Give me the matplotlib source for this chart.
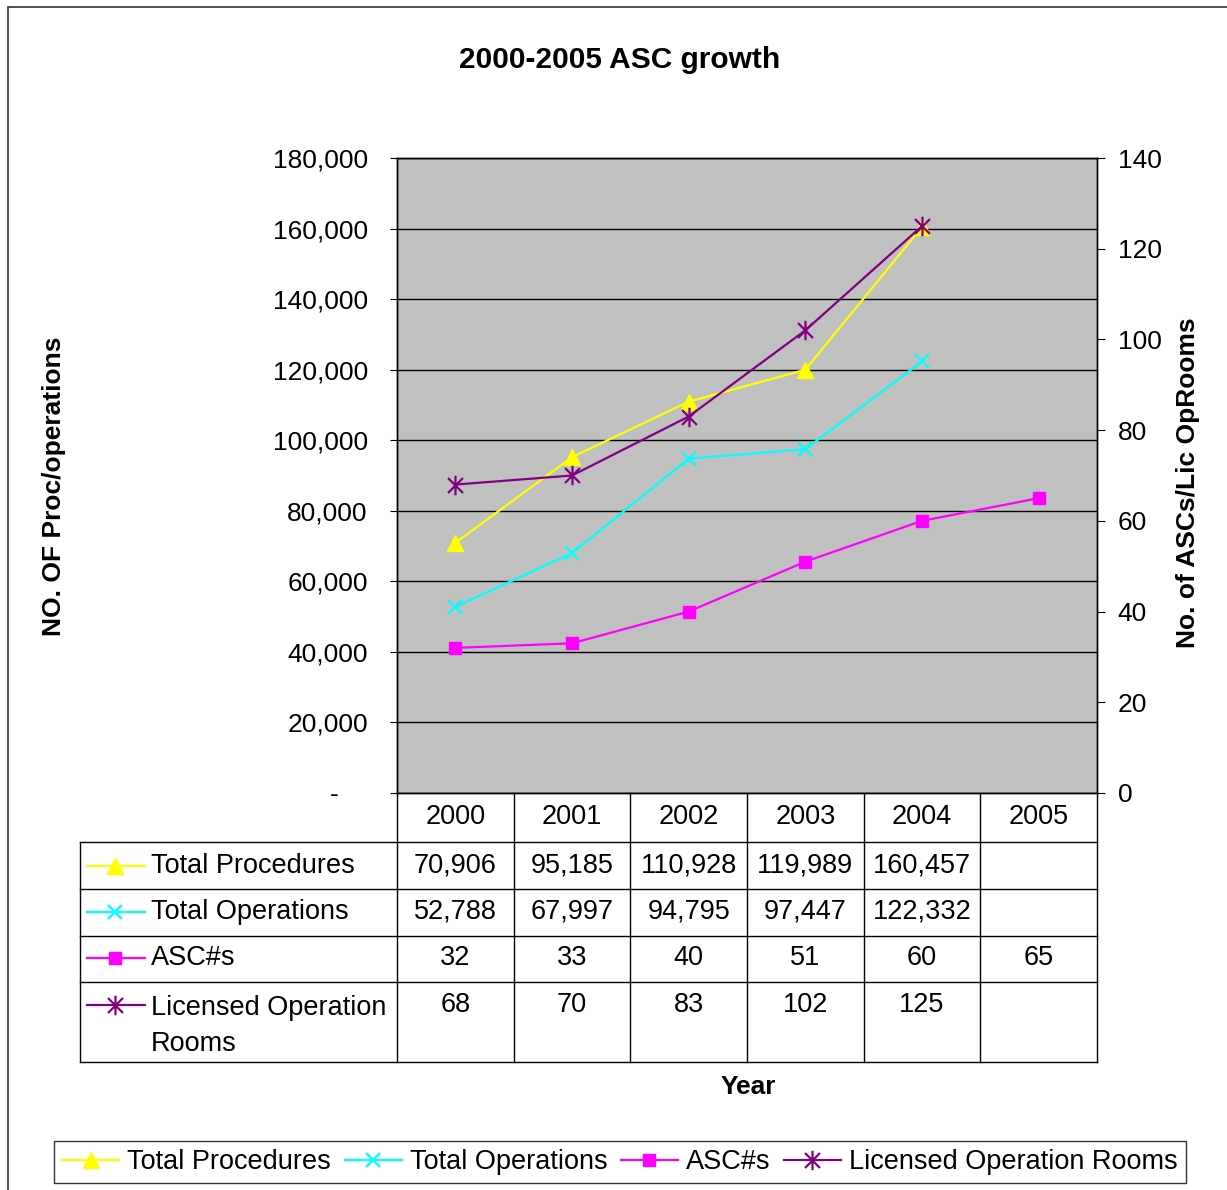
import matplotlib
matplotlib.use("Agg")
import matplotlib.pyplot as plt
import numpy as np
from matplotlib.lines import Line2D
from matplotlib.patches import Rectangle
from matplotlib.path import Path
from matplotlib.transforms import blended_transform_factory
from matplotlib.ticker import FuncFormatter, MultipleLocator

plt.rcParams['font.family'] = ['Liberation Sans', 'DejaVu Sans']

# data
years = ['2000', '2001', '2002', '2003', '2004', '2005']
total_procedures = [70906, 95185, 110928, 119989, 160457, None]
total_operations = [52788, 67997, 94795, 97447, 122332, None]
asc_counts = [32, 33, 40, 51, 60, 65]
licensed_rooms = [68, 70, 83, 102, 125, None]
series_names = ['Total Procedures', 'Total Operations', 'ASC#s', 'Licensed Operation Rooms']
table_labels = ['Total Procedures', 'Total Operations', 'ASC#s', 'Licensed Operation\nRooms']

W, H = 1227, 1190
FS = 19
FS_TXT = 19.5

# asterisk marker like excel (x plus vertical bar)
star = Path([(-1, -1), (1, 1), (-1, 1), (1, -1), (0, -1.3), (0, 1.3)],
            [Path.MOVETO, Path.LINETO, Path.MOVETO, Path.LINETO, Path.MOVETO, Path.LINETO])

styles = [
    dict(color='#FFFF00', marker='^', markersize=11, mfc='#FFFF00', mec='#FFFF00'),
    dict(color='#00FFFF', marker='x', markersize=10, mew=1.6),
    dict(color='#FF00FF', marker='s', markersize=8, mfc='#FF00FF', mec='#FF00FF'),
    dict(color='#800080', marker=star, markersize=14, mew=1.6),
]


def fx(x):
    return x / W


def fy(y):
    return 1 - y / H


fig = plt.figure(figsize=(W / 100, H / 100), dpi=100)

# outer frame (right and bottom edges fall outside the picture)
fig.patches.append(Rectangle((fx(8), fy(1250)), fx(1300), (1250 - 7) / H, transform=fig.transFigure,
                             fill=False, edgecolor='#333333', lw=1.2))

ax = fig.add_axes([fx(397), fy(793), 700 / W, 635 / H])
ax2 = ax.twinx()

x = np.arange(len(years))
ax.set_xlim(-0.5, len(years) - 0.5)
ax.set_ylim(0, 180000)
ax2.set_ylim(0, 140)
ax.set_facecolor('#C0C0C0')
ax.yaxis.set_major_locator(MultipleLocator(20000))
ax2.yaxis.set_major_locator(MultipleLocator(20))
ax.grid(axis='y', color='black', lw=1)
ax.set_axisbelow(True)
ax.set_xticks([])


def left_fmt(v, pos):
    if v == 0:
        return '-    '
    return f'{int(v):,}'


ax.yaxis.set_major_formatter(FuncFormatter(left_fmt))
ax.tick_params(axis='y', labelsize=FS, length=5, pad=16, direction='out')
ax2.tick_params(axis='y', labelsize=FS, length=6, pad=9, direction='out')
for a in (ax, ax2):
    for s in a.spines.values():
        s.set_color('black')
        s.set_linewidth(1)

all_series = [total_procedures, total_operations, asc_counts, licensed_rooms]
axes_for = [ax, ax, ax2, ax2]
for vals, a, st in zip(all_series, axes_for, styles):
    y = np.array(vals, dtype=float)
    a.plot(x, y, lw=1.6, clip_on=False, zorder=3, **st)

fig.text(fx(620), fy(60), '2000-2005 ASC growth', ha='center', va='center',
         fontsize=21.5, fontweight='bold')
fig.text(fx(54), fy(486), 'NO. OF Proc/operations', rotation=90, ha='center', va='center',
         fontsize=FS, fontweight='bold')
fig.text(fx(1188), fy(483), 'No. of ASCs/Lic OpRooms', rotation=90, ha='center', va='center',
         fontsize=FS, fontweight='bold')
fig.text(fx(748), fy(1087), 'Year', ha='center', va='center', fontsize=FS, fontweight='bold')

# data table under the axis
bt = blended_transform_factory(ax.transData, fig.transFigure)
row_edges = [793, 842, 889, 936, 982, 1062]
for b in np.arange(len(years) + 1) - 0.5:
    fig.lines.append(Line2D([b, b], [fy(793), fy(1062)], transform=bt, color='black', lw=1))
for ye in row_edges[1:]:
    fig.lines.append(Line2D([fx(80), fx(1097)], [fy(ye), fy(ye)], transform=fig.transFigure,
                            color='black', lw=1))
fig.lines.append(Line2D([fx(80), fx(80)], [fy(842), fy(1062)], transform=fig.transFigure,
                        color='black', lw=1))

for i, yr in enumerate(years):
    fig.text(i, fy(817), yr, transform=bt, ha='center', va='center', fontsize=FS_TXT)

row_centers = [866, 912, 958, 1005]
for r, (vals, lab, st) in enumerate(zip(all_series, table_labels, styles)):
    yc = row_centers[r]
    fig.lines.append(Line2D([fx(87), fx(145)], [fy(yc), fy(yc)], transform=fig.transFigure,
                            color=st['color'], lw=1.6))
    mk = {k: v for k, v in st.items() if k != 'color'}
    fig.lines.append(Line2D([fx(115)], [fy(yc)], transform=fig.transFigure,
                            color=st['color'], **mk))
    if '\n' in lab:
        fig.text(fx(151), fy(yc - 10), lab, ha='left', va='top', fontsize=FS_TXT, linespacing=1.5)
    else:
        fig.text(fx(151), fy(yc), lab, ha='left', va='center', fontsize=FS_TXT)
    for i, v in enumerate(vals):
        if v is None:
            continue
        fig.text(i, fy(yc), f'{v:,}', transform=bt, ha='center', va='center', fontsize=FS_TXT)

# bottom legend
handles = [Line2D([], [], lw=1.6, **st) for st in styles]
fig.legend(handles, series_names, loc='center', bbox_to_anchor=(fx(620), fy(1162)),
           ncol=4, fontsize=FS_TXT, frameon=True, fancybox=False, edgecolor='black',
           handlelength=2.1, handletextpad=0.3, columnspacing=0.5, borderpad=0.3)

fig.savefig('out.png', dpi=100)
